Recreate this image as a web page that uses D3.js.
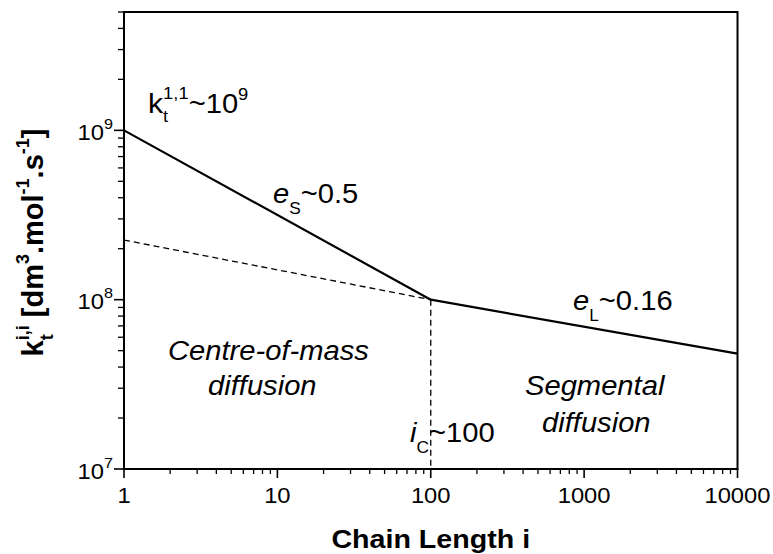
<!DOCTYPE html>
<html>
<head>
<meta charset="utf-8">
<script src="https://cdn.jsdelivr.net/npm/d3@7"></script>
<style>
  html, body { margin: 0; padding: 0; background: #fff; }
  svg text { font-family: "Liberation Sans", Arial, Helvetica, sans-serif; fill: #000; white-space: pre; }
</style>
</head>
<body>
<svg id="chart" width="773" height="554"></svg>
<script>
// Termination rate coefficient vs chain length (composite model)
const chainLength = [1, 100, 10000];          // solid line break points
const ktComposite = [1e9, 1e8, 4.8e7];        // k_t^{i,i} along the solid line
const dashedLength = [1, 100];                // centre-of-mass extrapolation
const ktDashed = [2.25e8, 1e8];
const crossoverLength = [100, 100];           // vertical marker at i_C
const crossoverKt = [1e8, 1e7];
const xTickValues = [1, 10, 100, 1000, 10000];
const xTickLabels = ["1", "10", "100", "1000", "10000"];
const yTickExponents = [7, 8, 9];

const svg = d3.select("#chart");
const margin = { left: 124, top: 12, right: 35.5, bottom: 85 };
const W = 773, H = 554;
const x0 = margin.left, x1 = W - margin.right;
const y0 = margin.top, y1 = H - margin.bottom;
const SX = 1.08; // horizontal widening of the lettering

const x = d3.scaleLog().domain([1, 10000]).range([x0, x1]);
const y = d3.scaleLog().domain([1e7, 5e9]).range([y1, y0]);

// rich text: sequence of pieces with normal / sub / sup / subsup styling
function rich(parent, px, py, items, opt) {
  opt = opt || {};
  const outer = parent.append("g");
  const inner = outer.append("g");
  let cx = 0;
  items.forEach(it => {
    const mk = (txt, size, dy, italic) => {
      const t = inner.append("text").attr("x", cx).attr("y", dy)
        .style("font-size", size + "px")
        .style("font-weight", opt.bold ? "bold" : "normal")
        .style("font-style", italic ? "italic" : "normal")
        .text(txt);
      return t.node().getComputedTextLength();
    };
    if (it.subsup) {
      const w1 = mk(it.sub, it.size, it.subDy, false);
      const w2 = mk(it.sup, it.size, it.supDy, false);
      cx += Math.max(w1, w2);
    } else {
      cx += mk(it.t, it.size, it.dy || 0, it.italic) + (it.gap || 0);
    }
  });
  let off = 0;
  if (opt.anchor === "middle") off = -cx / 2;
  if (opt.anchor === "end") off = -cx;
  inner.attr("transform", `translate(${off},0)`);
  const sx = opt.sx === undefined ? SX : opt.sx;
  outer.attr("transform", `translate(${px},${py})` + (opt.rotate ? ` rotate(${opt.rotate})` : "") + ` scale(${sx},1)`);
  return outer;
}

// axes and frame
const axisG = svg.append("g");
// x ticks
const xMajor = xTickValues;
const xMinor = [];
for (let d = 1; d < 10000; d *= 10) for (let k = 2; k <= 9; k++) xMinor.push(d * k);
axisG.selectAll("line.xmaj").data(xMajor).enter().append("line")
  .attr("x1", d => x(d)).attr("x2", d => x(d)).attr("y1", y1).attr("y2", y1 + 9)
  .attr("stroke", "#000").attr("stroke-width", 1.6);
axisG.selectAll("line.xmin").data(xMinor).enter().append("line")
  .attr("x1", d => x(d)).attr("x2", d => x(d)).attr("y1", y1).attr("y2", y1 + 5)
  .attr("stroke", "#000").attr("stroke-width", 1.3);
// y ticks
const yMajor = yTickExponents.map(e => Math.pow(10, e));
const yMinor = [];
for (let d = 1e7; d < 5e9; d *= 10) for (let k = 2; k <= 9; k++) if (d * k <= 5e9) yMinor.push(d * k);
axisG.selectAll("line.ymaj").data(yMajor).enter().append("line")
  .attr("x1", x0 - 10).attr("x2", x0).attr("y1", d => y(d)).attr("y2", d => y(d))
  .attr("stroke", "#000").attr("stroke-width", 1.6);
axisG.selectAll("line.ymin").data(yMinor).enter().append("line")
  .attr("x1", x0 - 6).attr("x2", x0).attr("y1", d => y(d)).attr("y2", d => y(d))
  .attr("stroke", "#000").attr("stroke-width", 1.3);
// frame
axisG.append("rect").attr("x", x0).attr("y", y0).attr("width", x1 - x0).attr("height", y1 - y0)
  .attr("fill", "none").attr("stroke", "#000").attr("stroke-width", 2);

// x tick labels
xTickValues.forEach((v, i) => {
  rich(svg, x(v), y1 + 34, [{ t: xTickLabels[i], size: 22 }], { anchor: "middle" });
});
// y tick labels 10^n
yTickExponents.forEach(e => {
  rich(svg, x0 - 11, y(Math.pow(10, e)) + 9.5,
    [{ t: "10", size: 22 }, { t: String(e), size: 15, dy: -11 }], { anchor: "end" });
});

// data lines
const line = d3.line().x(d => x(d[0])).y(d => y(d[1]));
svg.append("path").datum(d3.zip(dashedLength, ktDashed)).attr("d", line)
  .attr("fill", "none").attr("stroke", "#000").attr("stroke-width", 1.3).attr("stroke-dasharray", "6,4");
svg.append("path").datum(d3.zip(crossoverLength, crossoverKt)).attr("d", line)
  .attr("fill", "none").attr("stroke", "#000").attr("stroke-width", 1.3).attr("stroke-dasharray", "6,4");
svg.append("path").datum(d3.zip(chainLength, ktComposite)).attr("d", line)
  .attr("fill", "none").attr("stroke", "#000").attr("stroke-width", 2.2).attr("stroke-linejoin", "round");

// annotations
rich(svg, 148, 113, [
  { t: "k", size: 28 },
  { subsup: true, sub: "t", sup: "1,1", size: 17, subDy: 9, supDy: -14 },
  { t: "~10", size: 27 },
  { t: "9", size: 17, dy: -13 }
]);
rich(svg, 273, 203, [
  { t: "e", size: 27, italic: true },
  { t: "S", size: 16, dy: 11 },
  { t: "~0.5", size: 27 }
]);
rich(svg, 573, 310, [
  { t: "e", size: 27, italic: true },
  { t: "L", size: 16, dy: 11 },
  { t: "~0.16", size: 27 }
]);
rich(svg, 410, 442, [
  { t: "i", size: 27, italic: true },
  { t: "C", size: 16, dy: 11 },
  { t: "~100", size: 27 }
]);
rich(svg, 168, 360, [{ t: "Centre-of-mass", size: 27, italic: true }]);
rich(svg, 208, 395, [{ t: "diffusion", size: 27, italic: true }]);
rich(svg, 525, 395, [{ t: "Segmental", size: 27, italic: true }]);
rich(svg, 542, 432, [{ t: "diffusion", size: 27, italic: true }]);

// axis titles
rich(svg, (x0 + x1) / 2, 548, [{ t: "Chain Length i", size: 26.5 }], { anchor: "middle", bold: true });
rich(svg, 43, (y0 + y1) / 2 + 2, [
  { t: "k", size: 29 },
  { subsup: true, sub: "t", sup: "i,i", size: 18, subDy: 10, supDy: -14 },
  { t: "\u00a0[dm", size: 29 },
  { t: "3", size: 18, dy: -14 },
  { t: ".mol", size: 29 },
  { t: "-1", size: 18, dy: -14 },
  { t: ".s", size: 29 },
  { t: "-1", size: 18, dy: -14 },
  { t: "]", size: 29 }
], { anchor: "middle", bold: true, rotate: -90, sx: 1 });
</script>
</body>
</html>
